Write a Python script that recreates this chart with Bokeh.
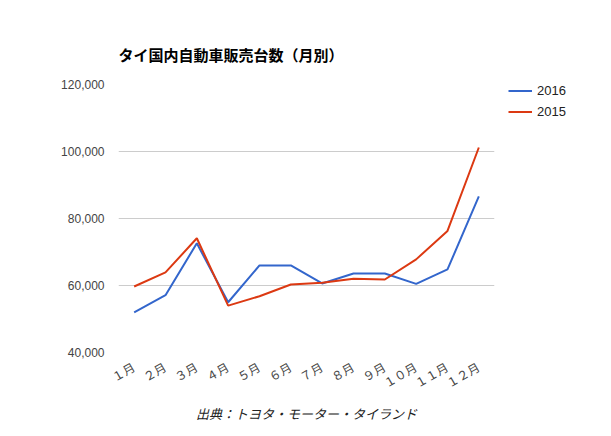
import math
from bokeh.plotting import figure
from bokeh.models import Legend, LegendItem, NumeralTickFormatter, Title, Range1d
from bokeh.embed import file_html
from bokeh.resources import INLINE

months = ["１月", "２月", "３月", "４月", "５月", "６月", "７月", "８月", "９月", "１０月", "１１月", "１２月"]
sales_2016 = [52000, 57100, 72600, 55000, 66000, 66000, 60600, 63600, 63600, 60500, 64800, 86600]
sales_2015 = [59700, 63900, 74100, 54000, 56800, 60300, 60800, 62000, 61800, 67800, 76300, 101200]

FONT = "Arial, 'Liberation Sans', 'Noto Sans CJK JP', sans-serif"

p = figure(x_range=months, y_range=Range1d(40000, 120000),
           frame_width=376, frame_height=268,
           output_backend="svg", toolbar_location=None,
           min_border_left=118, min_border_right=117, min_border_top=84, min_border_bottom=84)
p.outline_line_color = None
p.background_fill_color = "white"
p.border_fill_color = "white"

l16 = p.line(months, sales_2016, line_color="#3366cc", line_width=2)
l15 = p.line(months, sales_2015, line_color="#dc3912", line_width=2)

p.xgrid.grid_line_color = None
p.ygrid.grid_line_color = "#cccccc"
p.yaxis.ticker = [40000, 60000, 80000, 100000, 120000]
p.yaxis.formatter = NumeralTickFormatter(format="0,0")
for ax in (p.xaxis[0], p.yaxis[0]):
    ax.axis_line_color = None
    ax.major_tick_line_color = None
    ax.minor_tick_line_color = None
    ax.major_label_text_font = FONT
    ax.major_label_text_font_size = "12px"
    ax.major_label_text_color = "#444444"
p.yaxis.major_label_standoff = 8
p.xaxis.major_label_orientation = math.pi / 6
p.xaxis.major_label_standoff = 8

legend = Legend(items=[LegendItem(label="2016", renderers=[l16]),
                       LegendItem(label="2015", renderers=[l15])],
                location=(14, 232), border_line_color=None,
                label_text_font=FONT, label_text_font_size="13px",
                label_text_color="#222222", glyph_width=24, glyph_height=17,
                label_height=17, spacing=4, label_standoff=5,
                margin=0, padding=0, background_fill_alpha=0)
p.add_layout(legend, "right")

p.title = Title(text="タイ国内自動車販売台数（月別）", text_font=FONT,
                text_font_size="15px", text_font_style="bold", align="left",
                text_color="#000000", standoff=41, offset=0)

p.add_layout(Title(text="出典：トヨタ・モーター・タイランド", text_font=FONT,
                   text_font_size="13px", text_font_style="italic", align="center",
                   text_color="#222222"), "below")

open("out.html", "w").write(file_html(p, INLINE))
